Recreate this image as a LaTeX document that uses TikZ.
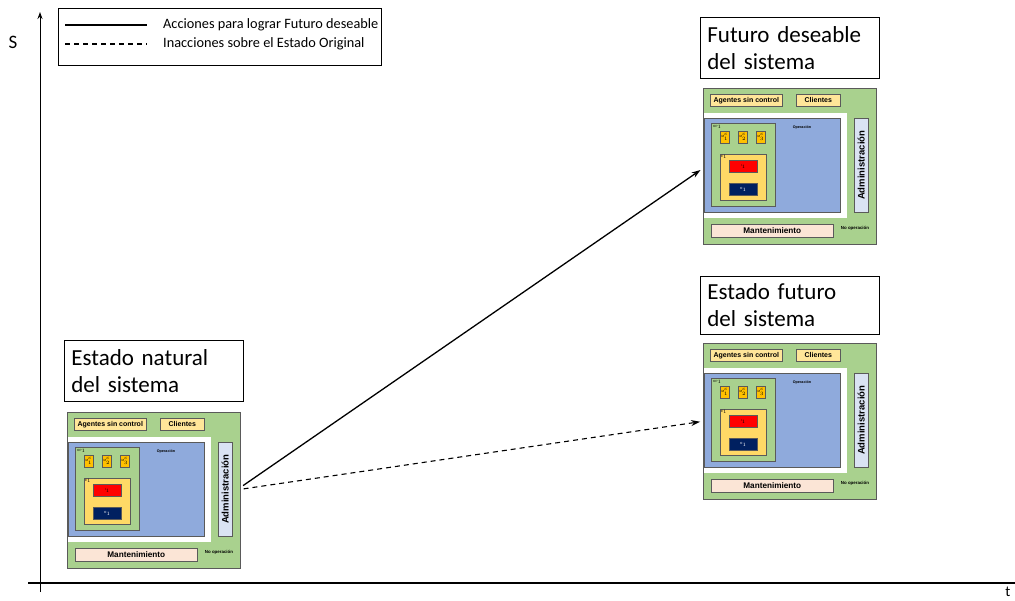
\documentclass[tikz,border=0pt]{standalone}
\usepackage{fontspec}
\setmainfont{Carlito}
\newfontfamily\diagfont{Liberation Sans}
\usetikzlibrary{arrows.meta}

\definecolor{sgreen}{HTML}{A9D18E}
\definecolor{lyellow}{HTML}{FFE699}
\definecolor{eyellow}{HTML}{FFD966}
\definecolor{mgold}{HTML}{FFC000}
\definecolor{sblue}{HTML}{8FAADC}
\definecolor{adminc}{HTML}{DAE3F3}
\definecolor{mantc}{HTML}{FBE5D6}
\definecolor{navyc}{HTML}{002060}
\definecolor{redc}{HTML}{FF0000}
\definecolor{framegray}{HTML}{5A5A5A}

\tikzset{
  frame/.style={draw=framegray, line width=0.6pt, anchor=north west, inner sep=0pt},
  lbl/.style={font=\diagfont\bfseries\fontsize{7}{8}\selectfont},
  tiny/.style={font=\diagfont\fontsize{3}{3}\selectfont, inner sep=0pt},
  titlebox/.style={draw=black, line width=0.8pt, anchor=north west, inner xsep=7pt,
    text width=165pt, align=left, font=\fontsize{23}{27}\selectfont},
  pics/sistema/.style={code={
    % outer green frame with the white working area cut into it
    \node[frame, fill=sgreen, minimum width=173pt, minimum height=156pt] (-outer) at (0,0) {};
    \fill[white] (0.3,25) rectangle (144,130);
    \draw[draw=framegray, line width=0.6pt] (-outer.north west) rectangle (-outer.south east);
    % top row
    \node[frame, fill=lyellow, minimum width=72pt, minimum height=12pt, lbl] (-agentes) at (7,6) {Agentes sin control};
    \node[frame, fill=lyellow, minimum width=44pt, minimum height=12pt, lbl] (-clientes) at (93,6) {Clientes};
    % operation area
    \node[frame, fill=sblue, minimum width=136pt, minimum height=94pt] (-oper) at (1,30) {};
    \node[font=\diagfont\bfseries\fontsize{3.7}{4}\selectfont, inner sep=0pt] (-opertxt) at (99,40) {Operación};
    \node[frame, fill=sgreen, minimum width=64pt, minimum height=83pt] (-op) at (8,35) {};
    \node[tiny, anchor=north west] (-optxt) at (10,37) {OP$_1$};
    \node[frame, fill=mgold, minimum width=9pt, minimum height=12pt, tiny] (-m1) at (17,43) {M$^c_1$};
    \node[frame, fill=mgold, minimum width=9pt, minimum height=12pt, tiny] (-m2) at (35,43) {M$^c_2$};
    \node[frame, fill=mgold, minimum width=9pt, minimum height=12pt, tiny] (-m3) at (53,43) {M$^c_3$};
    \node[frame, fill=eyellow, minimum width=46pt, minimum height=46pt] (-e) at (17,66) {};
    \node[tiny, anchor=north west] (-etxt) at (18,67) {E$_1$};
    \node[frame, fill=redc, minimum width=28pt, minimum height=12pt, tiny] (-i) at (26,72) {I$_1$};
    \node[frame, fill=navyc, minimum width=28pt, minimum height=12pt, tiny, text=white] (-o) at (26,95) {O$_1$};
    % administration column
    \node[frame, fill=adminc, minimum width=14pt, minimum height=94pt] (-admin) at (151,30) {};
    \node[font=\diagfont\bfseries\fontsize{9.5}{10}\selectfont, rotate=90, inner sep=0pt] (-admintxt) at (-admin.center) {Administración};
    % maintenance row
    \node[frame, fill=mantc, minimum width=122pt, minimum height=13pt, font=\diagfont\bfseries\fontsize{8.2}{9}\selectfont] (-mant) at (8,136) {Mantenimiento};
    \node[font=\diagfont\bfseries\fontsize{4.4}{5}\selectfont, inner sep=0pt] (-noop) at (152,140) {No operación};
  }}
}

\begin{document}
\begin{tikzpicture}[x=1pt, y=-1pt]
  \useasboundingbox (0,0) rectangle (1015,600);

  % axes
  \coordinate (yfoot) at (40,592);
  \coordinate (ytop) at (40,12);
  \coordinate (xleft) at (28,583);
  \coordinate (xright) at (1015,583);
  \draw[line width=1pt, -{Stealth[length=7pt, width=5pt]}] (yfoot) -- (ytop);
  \draw[line width=1.4pt] (xleft) -- (xright);
  \node[font=\fontsize{19}{20}\selectfont] (slabel) at (13,42) {S};
  \node[font=\fontsize{15}{16}\selectfont, inner sep=0pt] (tlabel) at (1008,592) {t};

  % legend
  \node[draw=black, line width=0.7pt, anchor=north west, minimum width=323pt, minimum height=57pt, inner sep=0pt] (legend) at (58,8) {};
  \coordinate (l1a) at (65,25);
  \coordinate (l1b) at (147,25);
  \coordinate (l2a) at (65,44);
  \coordinate (l2b) at (147,44);
  \draw[line width=1.2pt] (l1a) -- (l1b);
  \draw[line width=1.2pt, dash pattern=on 5pt off 4pt] (l2a) -- (l2b);
  \node[anchor=west, font=\fontsize{14.3}{16}\selectfont, inner sep=0pt] (leg1) at (163,25) {Acciones para lograr Futuro deseable};
  \node[anchor=west, font=\fontsize{14.3}{16}\selectfont, inner sep=0pt] (leg2) at (163,44) {Inacciones sobre el Estado Original};

  % titles
  \node[titlebox, minimum height=61pt] (tnat) at (64,340) {Estado natural\\del sistema};
  \node[titlebox, minimum height=61pt] (tdes) at (700,17) {Futuro deseable\\del sistema};
  \node[titlebox, minimum height=58pt] (tfut) at (700,276) {Estado futuro\\del sistema};

  % the three states of the system
  \pic (sa) at (67,412) {sistema};
  \pic (sb) at (703,88) {sistema};
  \pic (sc) at (703,343) {sistema};

  % transitions
  \draw[line width=1.3pt, -{Stealth[length=9pt, width=6pt]}, shorten <=3pt, shorten >=3pt]
    ([yshift=3pt]sa-outer.east) -- ([yshift=-2pt]sb-outer.west);
  \draw[line width=1.1pt, dash pattern=on 5pt off 4pt, -{Stealth[length=9pt, width=6pt]}, shorten <=3pt, shorten >=3pt]
    ([yshift=1pt]sa-outer.east) -- (sc-outer.west);
\end{tikzpicture}
\end{document}
